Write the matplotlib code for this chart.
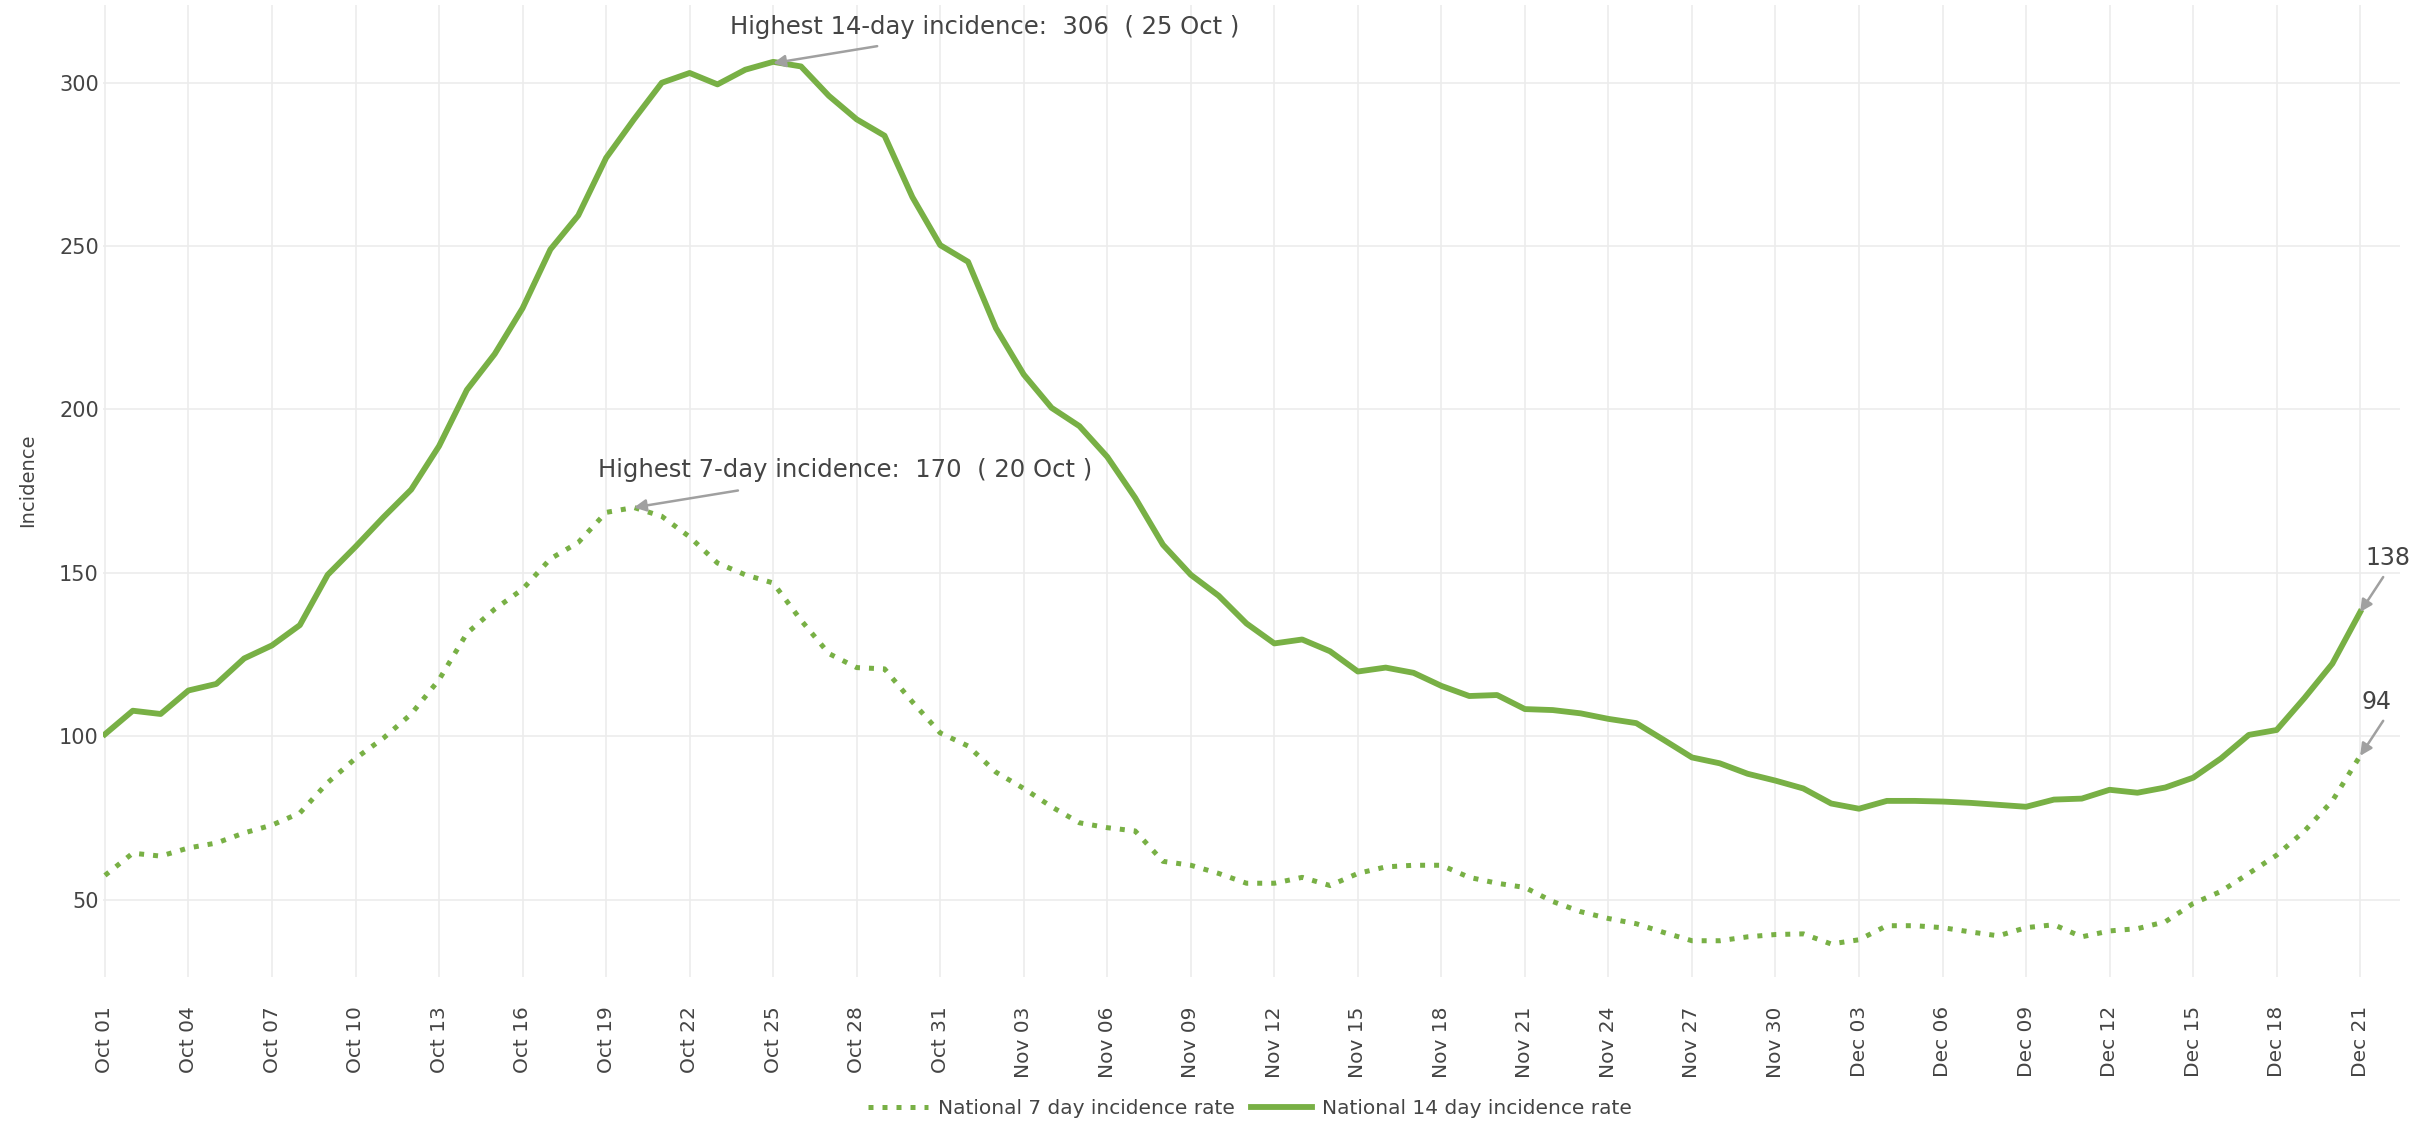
import matplotlib
matplotlib.use("Agg")
import matplotlib.pyplot as plt
import pandas as pd

# ---------------- data ----------------
dates = pd.date_range("2020-10-01", "2020-12-21", freq="D")

rate_14day = [
    100.6, 107.8, 106.8, 114.0, 116.0, 123.8, 127.8, 134.0, 149.4, 158.0,   # Oct 01-10
    167.0, 175.5, 188.8, 206.0, 217.0, 231.0, 249.0, 259.4, 277.0, 288.8,   # Oct 11-20
    300.0, 303.0, 299.5, 304.0, 306.4, 305.0, 296.0, 288.8, 283.8, 265.0,   # Oct 21-30
    250.3, 245.2, 224.9, 210.7, 200.5, 194.9, 185.5, 173.0, 158.6, 149.4,   # Oct 31-Nov 09
    143.0, 134.5, 128.4, 129.6, 126.0, 119.8, 121.0, 119.4, 115.4, 112.3,   # Nov 10-19
    112.6, 108.3, 108.0, 107.0, 105.3, 104.0, 98.8, 93.5, 91.7, 88.5,       # Nov 20-29
    86.4, 84.0, 79.4, 77.8, 80.2, 80.2, 80.0, 79.6, 79.0, 78.4,            # Nov 30-Dec 09
    80.6, 80.9, 83.6, 82.7, 84.3, 87.3, 93.2, 100.4, 101.9, 111.7,          # Dec 10-19
    122.2, 138.0,                                                           # Dec 20-21
]

rate_7day = [
    57.4, 64.2, 63.3, 65.8, 67.3, 70.4, 72.8, 76.5, 85.8, 93.2,             # Oct 01-10
    99.4, 106.8, 117.3, 131.5, 138.9, 145.0, 154.3, 159.3, 168.5, 170.0,    # Oct 11-20
    167.3, 161.0, 153.0, 149.4, 146.9, 135.5, 125.3, 121.0, 120.6, 110.5,   # Oct 21-30
    101.0, 97.0, 89.0, 84.0, 78.4, 73.5, 72.0, 71.0, 61.7, 60.5,            # Oct 31-Nov 09
    58.0, 55.0, 55.0, 56.8, 54.3, 58.0, 60.0, 60.5, 60.5, 56.8,             # Nov 10-19
    55.0, 53.7, 49.4, 46.3, 44.2, 42.6, 39.9, 37.4, 37.4, 38.6,             # Nov 20-29
    39.3, 39.5, 36.4, 37.7, 42.0, 42.0, 41.4, 40.1, 38.9, 41.4,             # Nov 30-Dec 09
    42.3, 38.6, 40.4, 41.1, 43.2, 48.8, 52.5, 58.0, 63.6, 71.0,             # Dec 10-19
    80.2, 94.0,                                                             # Dec 20-21
]

tick_labels = [
    "Oct 01", "Oct 04", "Oct 07", "Oct 10", "Oct 13", "Oct 16", "Oct 19",
    "Oct 22", "Oct 25", "Oct 28", "Oct 31", "Nov 03", "Nov 06", "Nov 09",
    "Nov 12", "Nov 15", "Nov 18", "Nov 21", "Nov 24", "Nov 27", "Nov 30",
    "Dec 03", "Dec 06", "Dec 09", "Dec 12", "Dec 15", "Dec 18", "Dec 21",
]
y_ticks = [50, 100, 150, 200, 250, 300]

series_names = ["National 7 day incidence rate", "National 14 day incidence rate"]
peak14_label = "Highest 14-day incidence:  306  ( 25 Oct )"
peak7_label = "Highest 7-day incidence:  170  ( 20 Oct )"
peak14_date, peak14_val = pd.Timestamp("2020-10-25"), 306
peak7_date, peak7_val = pd.Timestamp("2020-10-20"), 170

# ---------------- style ----------------
GREEN = "#78b045"
TEXT = "#444444"
GRID = "#ececec"
ARROW = "#a0a0a0"

plt.rcParams["font.family"] = ["DejaVu Sans"]

W, H = 2423, 1130
fig = plt.figure(figsize=(W / 100, H / 100), dpi=100)
ax = fig.add_axes([103 / W, 1 - 977 / H, (2400 - 103) / W, (977 - 5) / H])

ax.plot(dates, rate_7day, color=GREEN, lw=3.6, linestyle=(0, (1, 1.8)),
        dash_capstyle="butt", label=series_names[0], zorder=3)
ax.plot(dates, rate_14day, color=GREEN, lw=4.2, solid_joinstyle="round",
        label=series_names[1], zorder=3)

day = pd.Timedelta(days=1)
ax.set_xlim(dates[0] - 0.07 * day, dates[0] + 82.43 * day)
ax.set_ylim(26.3, 323.8)

ax.set_xticks(dates[::3])
ax.set_xticklabels(tick_labels, rotation=90, fontsize=14.5, color=TEXT)
ax.set_yticks(y_ticks)
ax.set_yticklabels([str(v) for v in y_ticks], fontsize=15, color=TEXT)
ax.tick_params(axis="x", length=0, pad=21)
ax.tick_params(axis="y", length=0, pad=3)

ax.grid(True, color=GRID, lw=1.2)
ax.set_axisbelow(True)
for s in ax.spines.values():
    s.set_visible(False)

fig.text(28 / W, 1 - 480 / H, "Incidence", rotation=90, ha="center", va="center",
         fontsize=14, color=TEXT)

# ---------------- annotations ----------------
arrowprops = dict(arrowstyle="-|>", color=ARROW, lw=1.8, mutation_scale=18,
                  shrinkA=0, shrinkB=0)


def annotate(date, val, text, text_off, tail_off, fs):
    ax.annotate("", xy=(date, val), xytext=tail_off, textcoords="offset pixels",
                arrowprops=arrowprops, zorder=5)
    ax.annotate(text, xy=(date, val), xytext=text_off, textcoords="offset pixels",
                ha="center", va="center", fontsize=fs, color=TEXT, zorder=5,
                annotation_clip=False)


annotate(peak14_date, peak14_val, peak14_label, (212, 36), (104, 17), 17.5)
annotate(peak7_date, peak7_val, peak7_label, (211, 37), (104, 17), 17.5)
annotate(dates[-1], rate_14day[-1], f"{rate_14day[-1]:.0f}", (28, 54), (23, 35), 17)
annotate(dates[-1], rate_7day[-1], f"{rate_7day[-1]:.0f}", (16, 54), (23, 35), 17)

# ---------------- legend ----------------
leg = fig.legend(loc="center left", bbox_to_anchor=(868 / W, 1 - 1109 / H),
                 ncol=2, frameon=False, fontsize=14.5, handlelength=3.0,
                 handletextpad=0.5, columnspacing=0.8, borderaxespad=0,
                 borderpad=0)
for t in leg.get_texts():
    t.set_color(TEXT)

fig.savefig("out.png", dpi=100, facecolor="white")
